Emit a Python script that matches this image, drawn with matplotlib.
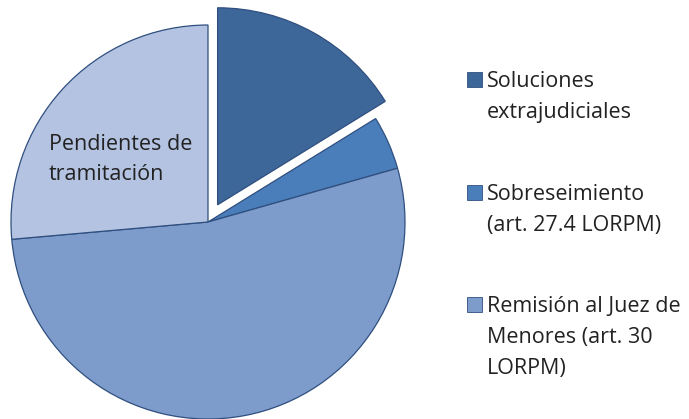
import matplotlib.pyplot as plt
from matplotlib.patches import Rectangle

# data (percent of total)
categories = ["Soluciones\nextrajudiciales",
              "Sobreseimiento\n(art. 27.4 LORPM)",
              "Remisión al Juez de\nMenores (art. 30\nLORPM)",
              "Pendientes de\ntramitación"]
values = [16.2, 4.4, 53.0, 26.4]
colors = ["#3D6699", "#4A7EBB", "#7D9BCB", "#B4C3E1"]
explode = [0.1, 0, 0, 0]
legend_items = [0, 1, 2]   # the last slice is labelled inside the pie

plt.rcParams['font.family'] = ['Open Sans', 'DejaVu Sans']

W, H = 689, 419
fig = plt.figure(figsize=(W / 100, H / 100), dpi=100)

# pie centre at (208, 222) px from top-left, radius 197 px; axes span +-1.25 radius
R = 197
cx, cy = 208, 222
size = 2.5 * R
ax = fig.add_axes([(cx - size / 2) / W, (H - cy - size / 2) / H, size / W, size / H])
ax.pie(values, colors=colors, explode=explode, startangle=90, counterclock=False,
       wedgeprops={'edgecolor': '#2F4F7F', 'linewidth': 0.9})
ax.set_xlim(-1.25, 1.25)
ax.set_ylim(-1.25, 1.25)
ax.set_aspect('equal')
ax.axis('off')

fs = 15.5

# label inside the "Pendientes" slice
fig.text(49 / W, 1 - 134 / H, categories[3], fontsize=fs, color='#222222',
         ha='left', va='top', linespacing=1.55)

# legend drawn by hand so the marker sits on the first line
caps = [73, 186, 298]
for i, cap in zip(legend_items, caps):
    fig.add_artist(Rectangle((467 / W, 1 - (cap + 14) / H), 15 / W, 15 / H,
                             transform=fig.transFigure, facecolor=colors[i],
                             edgecolor='#2F4F7F', linewidth=0.6))
    fig.text(487 / W, 1 - (cap - 2) / H, categories[i], fontsize=fs, color='#222222',
             ha='left', va='top', linespacing=1.63)

fig.savefig('out.png', dpi=100, facecolor='white')
